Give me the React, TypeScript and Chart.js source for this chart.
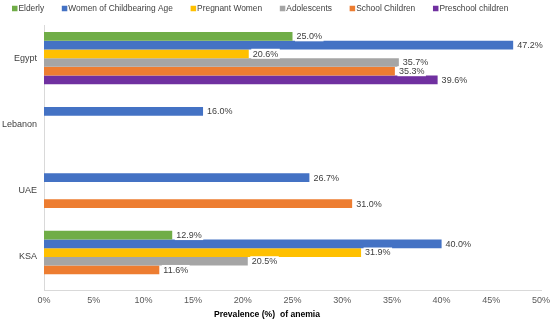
import React, { useEffect, useRef } from "react";
import { Chart, registerables } from "chart.js";

Chart.register(...registerables);

const countries = ["Egypt", "Lebanon", "UAE", "KSA"];
const seriesNames = [
  "Elderly",
  "Women of Childbearing Age",
  "Pregnant Women",
  "Adolescents",
  "School Children",
  "Preschool children",
];
const seriesColors = ["#70AD47", "#4472C4", "#FFC000", "#A5A5A5", "#ED7D31", "#7030A0"];
const elderly = [25.0, null, null, 12.9];
const women = [47.2, 16.0, 26.7, 40.0];
const pregnant = [20.6, null, null, 31.9];
const adolescents = [35.7, null, null, 20.5];
const schoolChildren = [35.3, null, 31.0, 11.6];
const preschool = [39.6, null, null, null];
const seriesValues = [elderly, women, pregnant, adolescents, schoolChildren, preschool];
const xTicksMax = 50;
const xTickStep = 5;
const xTitle = "Prevalence (%)  of anemia";

const FONT = "'Liberation Sans', Arial, sans-serif";

const labelPlugin = {
  id: "barLabels",
  afterDatasetsDraw(chart: any) {
    const ctx = chart.ctx;
    ctx.save();
    ctx.font = `9px ${FONT}`;
    ctx.textBaseline = "middle";
    ctx.textAlign = "left";
    chart.data.datasets.forEach((ds: any, i: number) => {
      const meta = chart.getDatasetMeta(i);
      meta.data.forEach((el: any, j: number) => {
        const v = ds.data[j];
        if (v === null || v === undefined) return;
        const txt = v.toFixed(1) + "%";
        const w = ctx.measureText(txt).width;
        const x = el.x + 4;
        const y = el.y;
        ctx.fillStyle = "#ffffff";
        ctx.fillRect(x - 1.5, y - 5, w + 3, 10);
        ctx.fillStyle = "#404040";
        ctx.fillText(txt, x, y + 0.5);
      });
    });
    ctx.restore();
  },
};

const legendPlugin = {
  id: "customLegend",
  afterDraw(chart: any) {
    const ctx = chart.ctx;
    ctx.save();
    ctx.font = `8.4px ${FONT}`;
    ctx.textBaseline = "middle";
    ctx.textAlign = "left";
    const box = 5.5;
    const textGap = 1;
    const gap = 17.7;
    const widths = chart.data.datasets.map(
      (ds: any) => box + textGap + ctx.measureText(ds.label).width
    );
    let x = 12;
    const y = 8.5;
    chart.data.datasets.forEach((ds: any, i: number) => {
      ctx.fillStyle = ds.backgroundColor;
      ctx.fillRect(x, y - box / 2, box, box);
      ctx.fillStyle = "#404040";
      ctx.fillText(ds.label, x + box + textGap, y);
      x += widths[i] + gap;
    });
    // x axis title
    ctx.font = `bold 8.6px ${FONT}`;
    ctx.textAlign = "center";
    ctx.fillStyle = "#000000";
    ctx.fillText(xTitle, 267, 315);
    ctx.restore();
  },
};

export default function App() {
  const ref = useRef<HTMLCanvasElement>(null);
  useEffect(() => {
    document.body.style.margin = "0";
    const chart = new Chart(ref.current!, {
      type: "bar",
      data: {
        labels: countries,
        datasets: seriesNames.map((name, i) => ({
          label: name,
          data: seriesValues[i],
          backgroundColor: seriesColors[i],
          borderWidth: 0,
          barPercentage: 1,
          categoryPercentage: 0.79,
        })),
      },
      options: {
        indexAxis: "y",
        animation: false,
        responsive: false,
        maintainAspectRatio: false,
        layout: { padding: { left: 2, right: 9, top: 25, bottom: 2 } },
        plugins: {
          legend: { display: false },
          tooltip: { enabled: false },
        },
        scales: {
          x: {
            min: 0,
            max: xTicksMax,
            grid: { display: false, drawTicks: false },
            border: { display: true, color: "#d9d9d9" },
            afterFit: (scale: any) => {
              scale.height = 31;
              scale.paddingRight = 0;
              scale.paddingLeft = 0;
            },
            ticks: {
              stepSize: xTickStep,
              padding: 5,
              color: "#595959",
              font: { family: FONT, size: 9 },
              callback: (v: any) => v + "%",
            },
            title: { display: false },
          },
          y: {
            grid: { display: false, drawTicks: false },
            border: { display: true, color: "#d9d9d9" },
            afterFit: (scale: any) => {
              scale.width = 42;
            },
            ticks: {
              padding: 7,
              color: "#404040",
              font: { family: FONT, size: 9 },
            },
          },
        },
      },
      plugins: [labelPlugin, legendPlugin],
    } as any);
    return () => chart.destroy();
  }, []);
  return (
    <div style={{ width: 550, height: 323 }}>
      <canvas ref={ref} width={550} height={323} />
    </div>
  );
}
